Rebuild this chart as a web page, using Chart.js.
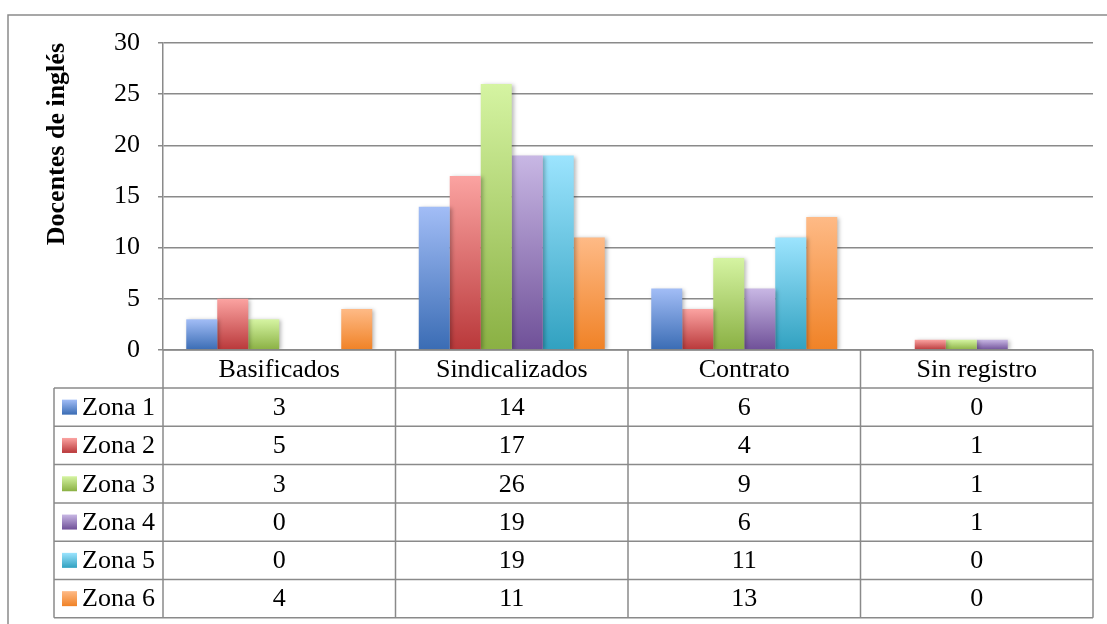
<!DOCTYPE html>
<html>
<head>
<meta charset="utf-8">
<script src="https://cdn.jsdelivr.net/npm/chart.js@4/dist/chart.umd.min.js"></script>
<style>
  html, body { margin: 0; padding: 0; background: #ffffff; }
  canvas { display: block; }
</style>
</head>
<body>
<canvas id="chart" width="1107" height="624"></canvas>
<script>
// Categories of teaching contract and the teacher counts for each zone
const categories = ['Basificados', 'Sindicalizados', 'Contrato', 'Sin registro'];
const seriesNames = ['Zona 1', 'Zona 2', 'Zona 3', 'Zona 4', 'Zona 5', 'Zona 6'];
const zona1 = [3, 14, 6, 0];
const zona2 = [5, 17, 4, 1];
const zona3 = [3, 26, 9, 1];
const zona4 = [0, 19, 6, 1];
const zona5 = [0, 19, 11, 0];
const zona6 = [4, 11, 13, 0];
const yTicks = [0, 5, 10, 15, 20, 25, 30];
const yTitle = 'Docentes de inglés';

const seriesValues = [zona1, zona2, zona3, zona4, zona5, zona6];

// Light (top) and dark (bottom) stops of each zone's vertical gradient
const seriesShades = [
  ['#a2bdf6', '#3a6cb4'],
  ['#fba3a1', '#b9383a'],
  ['#d5f4a2', '#8ab043'],
  ['#c8b7e4', '#6f5098'],
  ['#9ce4fe', '#31a1c0'],
  ['#feba86', '#f08226']
];

const FONT = "'Liberation Serif', 'Times New Roman', serif";
const LINE = '#8a8a8a';

function barGradient(shades) {
  return function (c) {
    const chart = c.chart;
    if (c.type !== 'data' || !chart.chartArea) return shades[1];
    const y = chart.scales.y;
    const yTop = y.getPixelForValue(c.raw);
    const yBase = y.getPixelForValue(0);
    if (yBase - yTop < 1) return shades[1];
    const g = chart.ctx.createLinearGradient(0, yTop, 0, yBase);
    g.addColorStop(0, shades[0]);
    g.addColorStop(1, shades[1]);
    return g;
  };
}

// Soft drop shadow under the columns
const barShadow = {
  id: 'barShadow',
  beforeDatasetsDraw(chart) {
    const ctx = chart.ctx;
    ctx.save();
    ctx.shadowColor = 'rgba(0,0,0,0.28)';
    ctx.shadowBlur = 4;
    ctx.shadowOffsetX = 2;
    ctx.shadowOffsetY = 1;
  },
  afterDatasetsDraw(chart) {
    chart.ctx.restore();
  }
};

// Outer frame of the chart object
const frame = {
  id: 'frame',
  beforeDraw(chart) {
    const ctx = chart.ctx;
    ctx.save();
    ctx.fillStyle = '#ffffff';
    ctx.fillRect(0, 0, chart.width, chart.height);
    ctx.strokeStyle = LINE;
    ctx.lineWidth = 1.5;
    ctx.strokeRect(8, 15, chart.width + 50, chart.height + 50);
    ctx.restore();
  }
};

// Data table with legend keys beneath the plot
const dataTable = {
  id: 'dataTable',
  afterDraw(chart) {
    const ctx = chart.ctx;
    const a = chart.chartArea;
    const x = chart.scales.x;
    const n = categories.length;
    const headTop = a.bottom;
    const headH = 38;
    const rowH = 38.3;
    const legLeft = 54;
    const rowsTop = headTop + headH;
    const bottom = rowsTop + rowH * seriesNames.length;

    const edges = [];
    for (let i = 0; i <= n; i++) edges.push(x.getPixelForValue(i - 0.5));

    ctx.save();
    ctx.strokeStyle = LINE;
    ctx.lineWidth = 1.5;
    ctx.beginPath();
    // header top (category axis line)
    ctx.moveTo(a.left, headTop); ctx.lineTo(a.right, headTop);
    // row separators
    for (let r = 0; r <= seriesNames.length; r++) {
      const yy = rowsTop + r * rowH;
      ctx.moveTo(legLeft, yy); ctx.lineTo(a.right, yy);
    }
    // column separators
    edges.forEach(ex => { ctx.moveTo(ex, headTop); ctx.lineTo(ex, bottom); });
    ctx.moveTo(legLeft, rowsTop); ctx.lineTo(legLeft, bottom);
    ctx.stroke();

    ctx.fillStyle = '#000000';
    ctx.font = '26px ' + FONT;
    ctx.textBaseline = 'middle';
    ctx.textAlign = 'center';
    categories.forEach((cat, i) => {
      ctx.fillText(cat, x.getPixelForValue(i), headTop + headH / 2 + 1);
    });

    seriesNames.forEach((name, r) => {
      const cy = rowsTop + r * rowH + rowH / 2;
      // legend key
      const kx = 62, ks = 15;
      const g = ctx.createLinearGradient(0, cy - ks / 2, 0, cy + ks / 2);
      g.addColorStop(0, seriesShades[r][0]);
      g.addColorStop(1, seriesShades[r][1]);
      ctx.fillStyle = g;
      ctx.fillRect(kx, cy - ks / 2, ks, ks);

      ctx.fillStyle = '#000000';
      ctx.textAlign = 'left';
      ctx.fillText(name, 82, cy + 1);
      ctx.textAlign = 'center';
      seriesValues[r].forEach((v, i) => {
        ctx.fillText(String(v), x.getPixelForValue(i), cy + 1);
      });
    });
    ctx.restore();
  }
};

const datasets = seriesNames.map((name, i) => ({
  label: name,
  data: seriesValues[i],
  backgroundColor: barGradient(seriesShades[i]),
  borderWidth: 0,
  barPercentage: 1,
  categoryPercentage: 0.8
}));

new Chart(document.getElementById('chart'), {
  type: 'bar',
  data: { labels: categories, datasets },
  plugins: [frame, barShadow, dataTable],
  options: {
    responsive: false,
    devicePixelRatio: 1,
    animation: false,
    layout: { padding: { top: 43, right: 14, bottom: 274, left: 0 } },
    plugins: {
      legend: { display: false },
      tooltip: { enabled: false }
    },
    scales: {
      x: {
        display: false,
        offset: true
      },
      y: {
        min: 0,
        max: 30,
        afterBuildTicks(scale) { scale.ticks = yTicks.map(v => ({ value: v })); },
        afterFit(scale) { scale.width = 163; },
        grid: { color: LINE, lineWidth: 1.5, tickLength: 5, drawTicks: true },
        border: { display: true, color: LINE, width: 1.5 },
        ticks: {
          color: '#000000',
          padding: 18,
          font: { family: FONT, size: 26 }
        },
        title: {
          display: true,
          text: yTitle,
          align: 'end',
          color: '#000000',
          font: { family: FONT, size: 26, weight: 'bold' },
          padding: { top: 42, bottom: 0 }
        }
      }
    }
  }
});
</script>
</body>
</html>
